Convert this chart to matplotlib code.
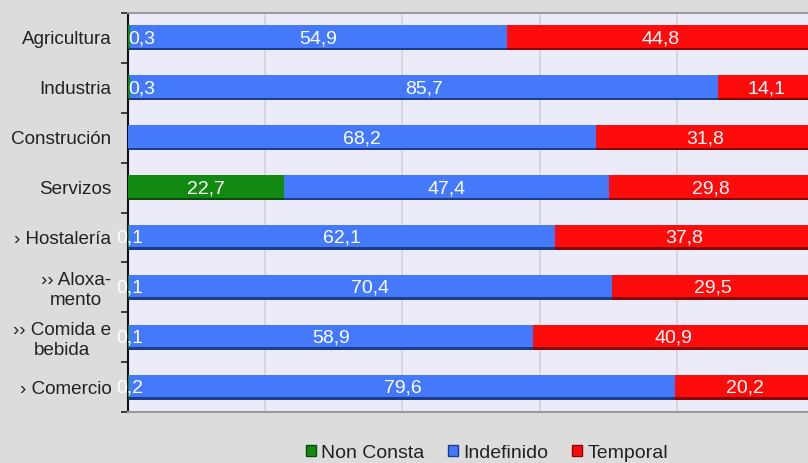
import matplotlib
matplotlib.use("Agg")
import matplotlib.pyplot as plt
import numpy as np
from matplotlib.patches import Patch

categories = ["Agricultura", "Industria", "Construción", "Servizos",
              "› Hostalería", "›› Aloxa-\nmento", "›› Comida e\nbebida", "› Comercio"]
non_consta = [0.3, 0.3, 0.0, 22.7, 0.1, 0.1, 0.1, 0.2]
indefinido = [54.9, 85.7, 68.2, 47.4, 62.1, 70.4, 58.9, 79.6]
temporal = [44.8, 14.1, 31.8, 29.8, 37.8, 29.5, 40.9, 20.2]
series_names = ["Non Consta", "Indefinido", "Temporal"]
colors = ["#128a12", "#4479fb", "#fe0c0c"]
edge_colors = ["#0a4a0a", "#1c3c8c", "#8a0606"]

plt.rcParams['font.family'] = ['Liberation Sans', 'DejaVu Sans']

fig = plt.figure(figsize=(8.08, 4.63), dpi=100)
fig.patch.set_facecolor("#dcdcdc")
ax = fig.add_axes([128/808, 51/463, 686/808, 399/463])
ax.set_facecolor("#ebebfa")

y = np.arange(len(categories))
bar_h = 0.5
left = np.zeros(len(categories))
series = [non_consta, indefinido, temporal]
for vals, c, ec in zip(series, colors, edge_colors):
    vals = np.array(vals)
    ax.barh(y, vals, left=left, height=bar_h, color=c, edgecolor="none", zorder=3)
    # darker bottom edge for 3D look
    ax.barh(y + bar_h/2 - 0.025, vals, left=left, height=0.05, color=ec, edgecolor="none", zorder=4)
    ax.barh(y - bar_h/2 + 0.015, vals, left=left, height=0.03, color=c, alpha=0.6, edgecolor="none", zorder=4)
    left = left + vals

# labels
left = np.zeros(len(categories))
for si, vals in enumerate(series):
    for i, v in enumerate(vals):
        if v > 0:
            txt = f"{v:.1f}".replace(".", ",")
            cx = left[i] + v / 2
            ha = "center"
            if si == 0 and v < 1:
                if v >= 0.3:
                    cx, ha = 0.0, "left"
                else:
                    cx = 0.3
            ax.text(cx, y[i] + 0.02, txt, ha=ha, va="center", color="white",
                    fontsize=14, zorder=6, clip_on=False)
    left = left + np.array(vals)

ax.set_xlim(0, 100)
ax.set_ylim(len(categories) - 0.5, -0.5)
ax.set_xticks([20, 40, 60, 80])
ax.set_xticklabels([])
ax.tick_params(axis="x", length=0)
ax.grid(axis="x", color="#d4d4d4", linewidth=1.2, zorder=1)
ax.set_yticks(y)
ax.set_yticklabels(categories, fontsize=13.6, color="#222222", multialignment="center")
ax.tick_params(axis="y", length=0, pad=12)
ax.set_yticks(np.arange(-0.5, len(categories), 1.0), minor=True)
ax.tick_params(axis="y", which="minor", length=5, width=1.2, color="#222222", direction="out")

ax.spines["left"].set_color("#111111")
ax.spines["left"].set_linewidth(1.5)
ax.spines["top"].set_color("#9a9a9a")
ax.spines["top"].set_linewidth(1.5)
ax.spines["bottom"].set_color("#9a9a9a")
ax.spines["bottom"].set_linewidth(1.5)
ax.spines["right"].set_visible(False)

handles = [Patch(facecolor=c, edgecolor=ec, linewidth=1) for c, ec in zip(colors, edge_colors)]
leg = fig.legend(handles, series_names, loc="center", bbox_to_anchor=(487/808, 10/463),
                 ncol=3, frameon=False, fontsize=14, handlelength=0.5, handleheight=0.5,
                 handletextpad=0.3, columnspacing=1.2, borderaxespad=0)
for t in leg.get_texts():
    t.set_color("#222222")

fig.savefig("out.png", dpi=100, facecolor=fig.get_facecolor())
